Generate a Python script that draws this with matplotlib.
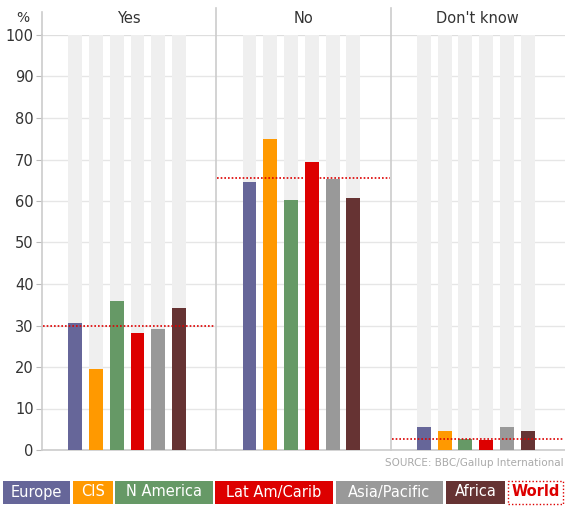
import matplotlib.pyplot as plt
from matplotlib.patches import Rectangle

panels = ['Yes', 'No', "Don't know"]
regions = ['Europe', 'CIS', 'N America', 'Lat Am/Carib', 'Asia/Pacific', 'Africa']
colors = ['#666699', '#ff9900', '#669966', '#dd0000', '#999999', '#663333']
yes_vals = [30.5, 19.5, 36.0, 28.3, 29.2, 34.2]
no_vals = [64.5, 75.0, 60.2, 69.3, 65.3, 60.7]
dk_vals = [5.5, 4.6, 2.7, 2.4, 5.5, 4.6]
world = [30.0, 65.5, 2.7]
yticks = list(range(0, 101, 10))

fig = plt.figure(figsize=(5.65, 5.07), dpi=100)
ax = fig.add_axes([42/565, 57/507, 1 - 42/565, 415/507])

pw = 8.4       # panel width in bar-spacing units
first = 1.6    # first bar centre offset
bw = 0.67
for p, vals in enumerate([yes_vals, no_vals, dk_vals]):
    x0 = p*pw
    for i, v in enumerate(vals):
        xc = x0 + first + i
        ax.bar(xc, 100, width=bw, color='#efefef', zorder=1)
        ax.bar(xc, v, width=bw, color=colors[i], zorder=3)
    ax.plot([x0 + 0.05, x0 + pw - 0.05], [world[p]]*2, color='#dd0000', ls=(0, (1, 1.2)), lw=1.2, zorder=4)
    ax.text(x0 + pw/2, 1.04, panels[p], transform=ax.get_xaxis_transform(), ha='center', va='center',
            fontsize=10.5, color='#333333')
    if p > 0:
        ax.plot([x0, x0], [0, 1.065], transform=ax.get_xaxis_transform(), color='#cccccc', lw=1.2,
                clip_on=False, zorder=2)

for t in yticks:
    ax.axhline(t, color='#e6e6e6', lw=1, zorder=0.5)
ax.axhline(100, color='#dddddd', lw=1.2, zorder=0.5)

ax.set_xlim(0, 3*pw)
ax.set_ylim(0, 100)
ax.set_yticks(yticks)
ax.set_xticks([])
ax.tick_params(axis='y', length=4, color='#bbbbbb', labelsize=10.5, labelcolor='#333333', pad=2)
for s in ['top', 'right']:
    ax.spines[s].set_visible(False)
ax.spines['left'].set_color('#cccccc')
ax.spines['left'].set_linewidth(1.2)
ax.spines['left'].set_bounds(0, 100)
ax.plot([0, 0], [1, 1.055], transform=ax.get_xaxis_transform(), color='#cccccc', lw=1.2, clip_on=False)
ax.spines['bottom'].set_color('#cccccc')
ax.spines['bottom'].set_linewidth(1.2)
ax.text(-0.025, 1.04, '%', transform=ax.transAxes, ha='right', va='center', fontsize=10, color='#333333')

fig.text(0.998, (507 - 463)/507, 'SOURCE: BBC/Gallup International', ha='right', va='center', fontsize=7.5,
         color='#aaaaaa')

# legend boxes
boxes = [(3, 70), (73, 113), (115, 213), (215, 333), (336, 443), (446, 505)]
for (a, b), name, c in zip(boxes, regions, colors):
    fig.patches.append(Rectangle((a/565, 3/507), (b - a)/565, 23/507, transform=fig.transFigure,
                                 facecolor=c, edgecolor='none'))
    fig.text((a + b)/2/565, 15/507, name, ha='center', va='center', color='white', fontsize=10.5)
fig.patches.append(Rectangle((508/565, 3/507), 55/565, 23/507, transform=fig.transFigure,
                             facecolor='white', edgecolor='#dd0000', ls=(0, (1, 1.5)), lw=1))
fig.text(535.5/565, 15/507, 'World', ha='center', va='center', color='#dd0000', fontsize=10.5,
         fontweight='bold')

fig.savefig('out.png', dpi=100)
